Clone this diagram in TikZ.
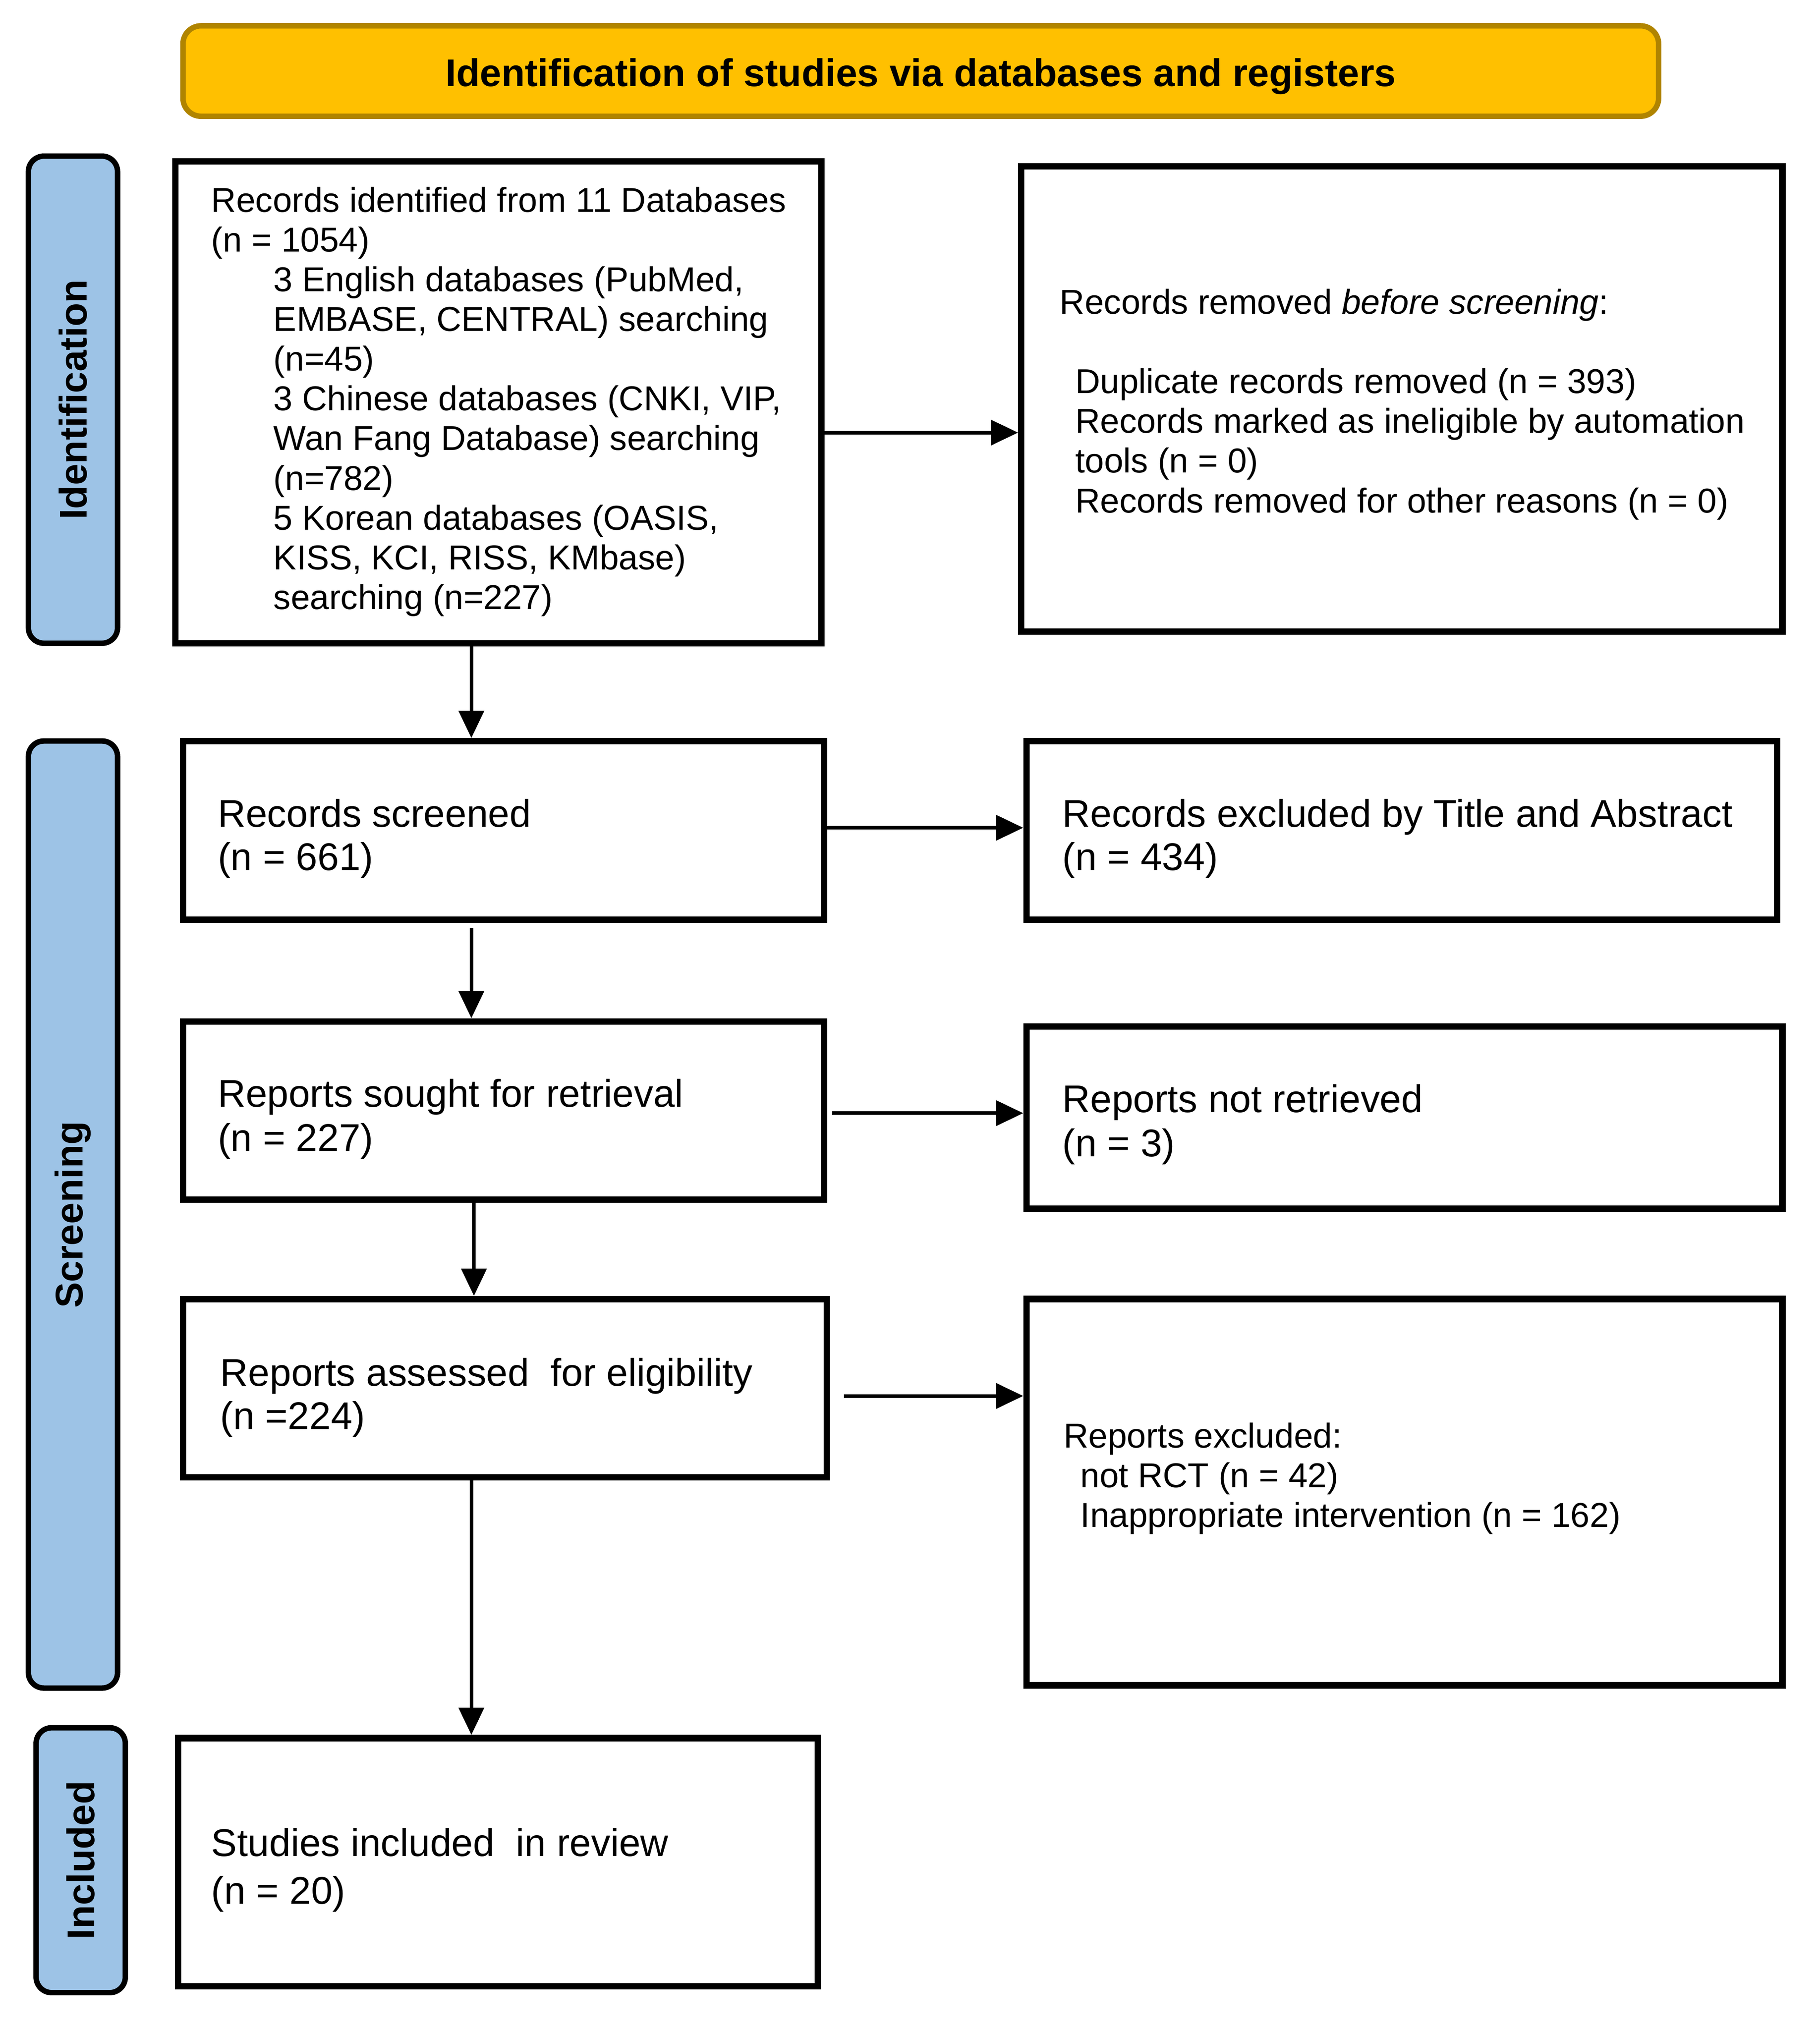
\documentclass[tikz,border=0pt]{standalone}
\usepackage{fontspec}
\setmainfont{Liberation Sans}
\usetikzlibrary{arrows.meta}
\definecolor{hdrfill}{HTML}{FFC000}
\definecolor{hdrline}{HTML}{B08400}
\definecolor{barfill}{HTML}{9DC3E6}
\tikzset{
  boxnode/.style={draw=black, line width=1.4pt, inner sep=0pt},
  hdrnode/.style={draw=hdrline, fill=hdrfill, line width=1.2pt, rounded corners=0.14cm, inner sep=0pt,
    font=\fontsize{8.5}{10}\selectfont\bfseries},
  barnode/.style={draw=black, fill=barfill, line width=1.2pt, rounded corners=0.12cm, inner sep=0pt,
    rotate=90, font=\fontsize{8.5}{10}\selectfont\bfseries},
  smalltxt/.style={anchor=north west, inner sep=0pt, align=left, font=\fontsize{7.6}{8.75}\selectfont},
  bigtxt/.style={anchor=north west, inner sep=0pt, align=left, font=\fontsize{8.5}{9.5}\selectfont},
  arr/.style={line width=0.8pt, -{Triangle[length=6pt, width=5.5pt]}},
}
\begin{document}
\begin{tikzpicture}[x=0.01cm, y=-0.01cm]
\useasboundingbox (0,0) rectangle (1409,1572);

% header
\node[hdrnode, minimum width=11.42cm, minimum height=0.70cm, text height=0.30cm, text depth=0.06cm] (hdr) at (713,55)
  {Identification of studies via databases and registers};

% side bars
\node[barnode, minimum width=3.77cm, minimum height=0.69cm] (idbar) at (56.5,309.5) {Identification};
\node[barnode, minimum width=7.33cm, minimum height=0.69cm] (scbar) at (56.5,940.5) {Screening};
\node[barnode, minimum width=2.05cm, minimum height=0.69cm] (inbar) at (62.5,1440.5) {Included};

% boxes
\node[boxnode, minimum width=5.00cm, minimum height=3.73cm] (A) at (386,311.5) {};
\node[boxnode, minimum width=5.89cm, minimum height=3.60cm] (B) at (1085.5,309) {};
\node[boxnode, minimum width=4.96cm, minimum height=1.38cm] (C) at (390,643) {};
\node[boxnode, minimum width=5.81cm, minimum height=1.38cm] (D) at (1085.5,643) {};
\node[boxnode, minimum width=4.96cm, minimum height=1.38cm] (E) at (390,860) {};
\node[boxnode, minimum width=5.85cm, minimum height=1.41cm] (F) at (1087.5,865.5) {};
\node[boxnode, minimum width=4.98cm, minimum height=1.38cm] (G) at (391,1075) {};
\node[boxnode, minimum width=5.85cm, minimum height=2.99cm] (H) at (1087.5,1155.5) {};
\node[boxnode, minimum width=4.95cm, minimum height=1.92cm] (I) at (385.5,1442) {};

% texts
\node[smalltxt] (At) at (163,144) {Records identified from 11 Databases\\
(n = 1054)\\
\hspace*{13.7pt}3 English databases (PubMed,\\
\hspace*{13.7pt}EMBASE, CENTRAL) searching\\
\hspace*{13.7pt}(n=45)\\
\hspace*{13.7pt}3 Chinese databases (CNKI, VIP,\\
\hspace*{13.7pt}Wan Fang Database) searching\\
\hspace*{13.7pt}(n=782)\\
\hspace*{13.7pt}5 Korean databases (OASIS,\\
\hspace*{13.7pt}KISS, KCI, RISS, KMbase)\\
\hspace*{13.7pt}searching (n=227)};

\node[smalltxt] (Bt) at (820,223) {Records removed \textit{before screening}:\\[8.75pt]
\hspace*{3.4pt}Duplicate records removed (n = 393)\\
\hspace*{3.4pt}Records marked as ineligible by automation\\
\hspace*{3.4pt}tools (n = 0)\\
\hspace*{3.4pt}Records removed for other reasons (n = 0)};

\node[bigtxt] (Ct) at (168,618) {Records screened\\(n = 661)};
\node[bigtxt] (Dt) at (822,618) {Records excluded by Title and Abstract\\(n = 434)};
\node[bigtxt, font=\fontsize{8.5}{9.7}\selectfont] (Et) at (168,835) {Reports sought for retrieval\\(n = 227)};
\node[bigtxt, font=\fontsize{8.5}{9.7}\selectfont] (Ft) at (822,839) {Reports not retrieved\\(n = 3)};
\node[bigtxt] (Gt) at (170,1051) {Reports assessed\ \ for eligibility\\(n =224)};
\node[smalltxt] (Ht) at (823,1101) {Reports excluded:\\
\hspace*{3.7pt}not RCT (n = 42)\\
\hspace*{3.7pt}Inappropriate intervention (n = 162)};
\node[bigtxt, font=\fontsize{8.5}{10.5}\selectfont] (It) at (163,1415) {Studies included\ \ in review\\(n = 20)};

% connector guides
\coordinate (v1) at (365,0);
\coordinate (v2) at (367,0);
\coordinate (h1) at (0,335);
\coordinate (h2) at (0,641);
\coordinate (h3) at (0,862);
\coordinate (h4) at (0,1081);

% vertical arrows
\draw[arr] (A.south -| v1) -- (C.north -| v1);
\draw[arr, shorten <=1.1pt] (C.south -| v1) -- (E.north -| v1);
\draw[arr] (E.south -| v2) -- (G.north -| v2);
\draw[arr] (G.south -| v1) -- (I.north -| v1);

% horizontal arrows
\draw[arr] (A.east |- h1) -- (B.west |- h1);
\draw[arr] (C.east |- h2) -- (D.west |- h2);
\draw[arr, shorten <=1.1pt] (E.east |- h3) -- (F.west |- h3);
\draw[arr, shorten <=3.1pt] (G.east |- h4) -- (H.west |- h4);
\end{tikzpicture}
\end{document}
